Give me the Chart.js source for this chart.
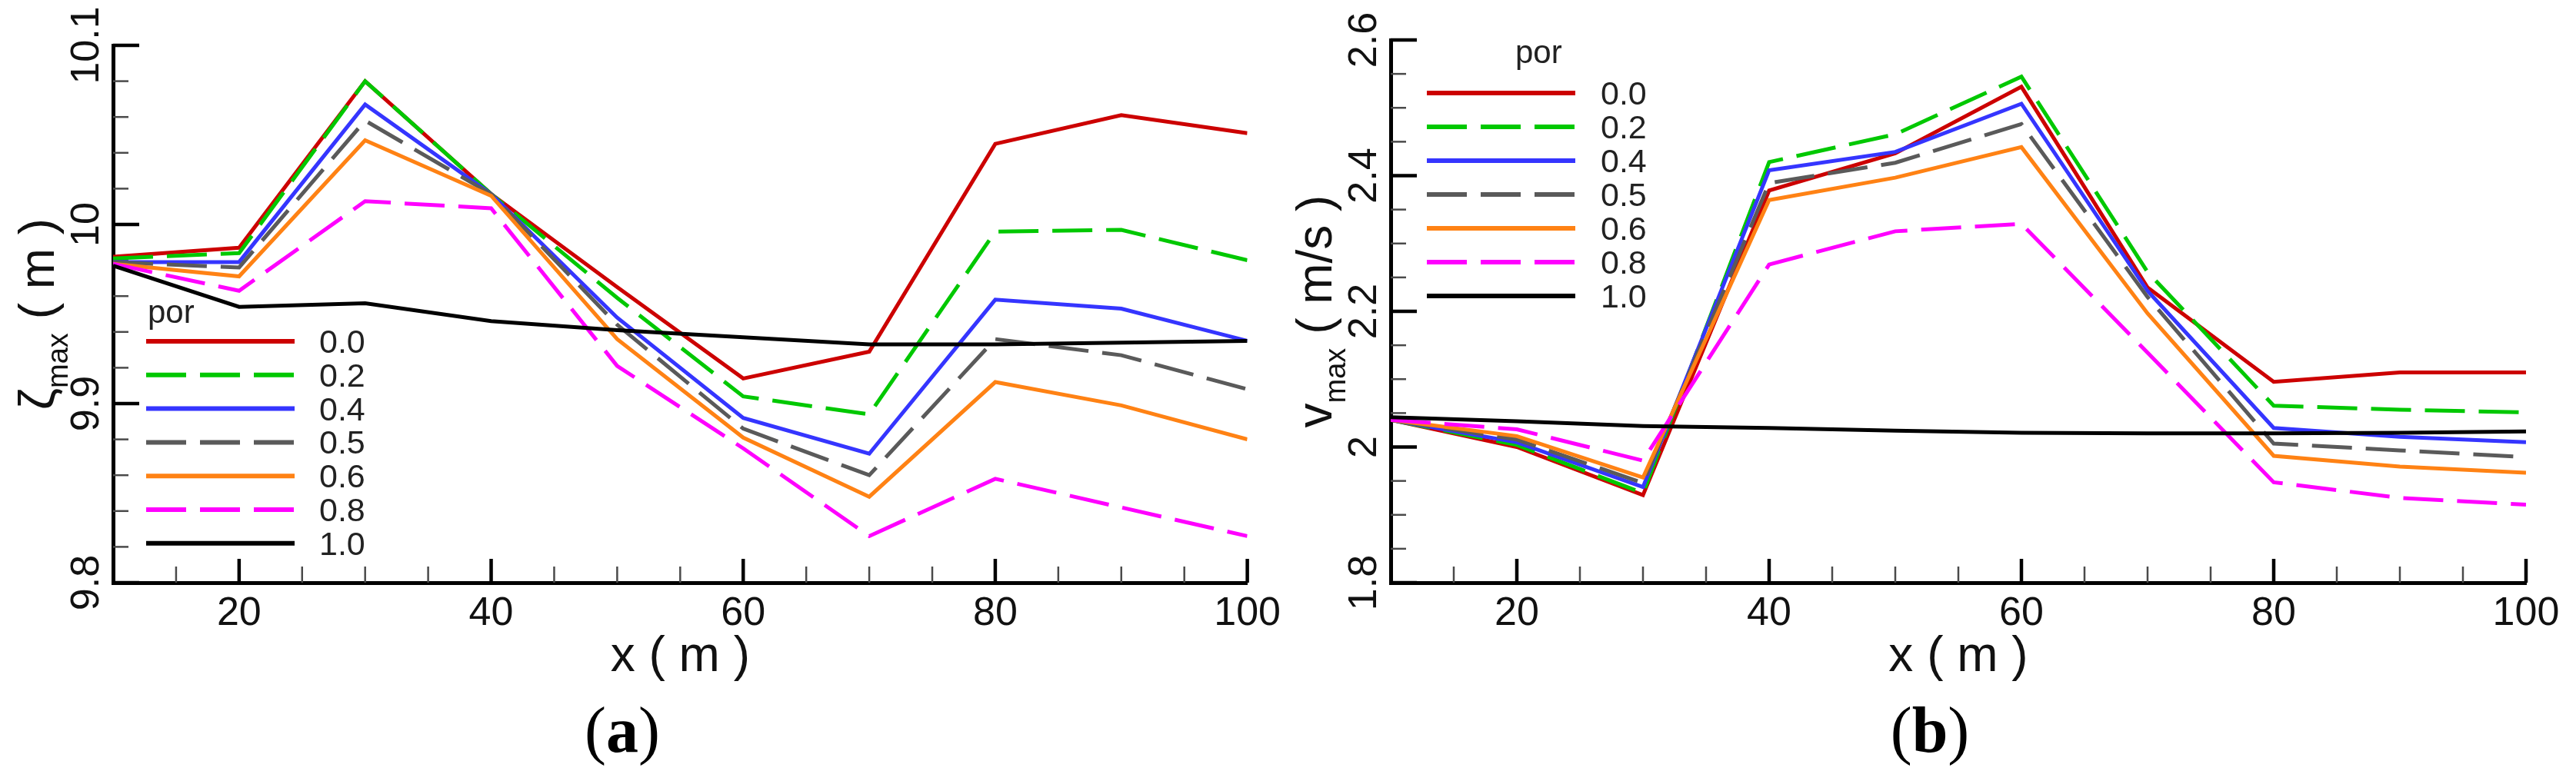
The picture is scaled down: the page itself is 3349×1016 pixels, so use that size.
<!DOCTYPE html>
<html>
<head>
<meta charset="utf-8">
<script src="https://cdn.jsdelivr.net/npm/chart.js@4.4.1/dist/chart.umd.min.js"></script>
<style>
html,body{margin:0;padding:0;background:#fff;width:3349px;height:1016px;overflow:hidden}
.panel{position:absolute;top:0;width:1674px;height:1016px}
#wa{left:0}
#wb{left:1675px}
canvas{display:block}
</style>
</head>
<body>
<div class="panel" id="wa"><canvas id="ca" width="1674" height="1016"></canvas></div>
<div class="panel" id="wb"><canvas id="cb" width="1674" height="1016"></canvas></div>
<script>
// ---------- data ----------
const xStations = [10, 20, 30, 40, 50, 60, 70, 80, 90, 100];
const porLabels = ['0.0', '0.2', '0.4', '0.5', '0.6', '0.8', '1.0'];

// (a) maximum surface elevation zeta_max (m)
const zeta_por00 = [9.982, 9.987, 10.080, 10.017, 9.965, 9.914, 9.929, 10.045, 10.061, 10.051];
const zeta_por02 = [9.981, 9.984, 10.080, 10.017, 9.959, 9.904, 9.894, 9.996, 9.997, 9.980];
const zeta_por04 = [9.979, 9.979, 10.067, 10.017, 9.948, 9.892, 9.872, 9.958, 9.953, 9.935];
const zeta_por05 = [9.979, 9.976, 10.058, 10.017, 9.944, 9.886, 9.860, 9.936, 9.927, 9.908];
const zeta_por06 = [9.978, 9.971, 10.047, 10.016, 9.936, 9.881, 9.848, 9.912, 9.899, 9.880];
const zeta_por08 = [9.978, 9.963, 10.013, 10.009, 9.921, 9.875, 9.826, 9.858, 9.842, 9.826];
const zeta_por10 = [9.977, 9.954, 9.956, 9.946, 9.941, 9.937, 9.933, 9.933, 9.934, 9.935];

// (b) maximum velocity v_max (m/s)
const vel_por00 = [2.040, 2.000, 1.929, 2.378, 2.433, 2.531, 2.235, 2.096, 2.110, 2.110];
const vel_por02 = [2.040, 2.003, 1.932, 2.420, 2.461, 2.546, 2.258, 2.061, 2.055, 2.051];
const vel_por04 = [2.040, 2.007, 1.941, 2.408, 2.435, 2.506, 2.230, 2.028, 2.015, 2.007];
const vel_por05 = [2.040, 2.011, 1.947, 2.389, 2.419, 2.476, 2.221, 2.005, 1.995, 1.985];
const vel_por06 = [2.040, 2.016, 1.955, 2.364, 2.397, 2.442, 2.197, 1.987, 1.971, 1.962];
const vel_por08 = [2.040, 2.026, 1.980, 2.269, 2.318, 2.329, 2.139, 1.948, 1.925, 1.915];
const vel_por10 = [2.044, 2.038, 2.031, 2.028, 2.024, 2.021, 2.020, 2.020, 2.021, 2.023];

// ticks
const xMajorTicks = [20, 40, 60, 80, 100];
const xMinorTicks = [15, 25, 30, 35, 45, 50, 55, 65, 70, 75, 85, 90, 95];
const zetaMajorTicks = [9.8, 9.9, 10, 10.1];
const zetaTickLabels = ['9.8', '9.9', '10', '10.1'];
const zetaMinorTicks = [9.82, 9.84, 9.86, 9.88, 9.92, 9.94, 9.96, 9.98, 10.02, 10.04, 10.06, 10.08];
const velMajorTicks = [1.8, 2.0, 2.2, 2.4, 2.6];
const velTickLabels = ['1.8', '2', '2.2', '2.4', '2.6'];
const velMinorTicks = [1.85, 1.9, 1.95, 2.05, 2.1, 2.15, 2.25, 2.3, 2.35, 2.45, 2.5, 2.55];

// ---------- styles ----------
const seriesColors = ['#cc0000', '#00c800', '#3535ff', '#5a5a5a', '#ff8214', '#ff00ff', '#000000'];
const seriesDashed = [false, true, false, true, false, true, false];
const DASH = [52, 18];
const SANS = "'Liberation Sans', Arial, Helvetica, sans-serif";
const SERIF = "'Liberation Serif', 'Times New Roman', serif";

function makeDatasets(seriesList) {
  return seriesList.map((vals, i) => ({
    label: porLabels[i],
    data: xStations.map((x, k) => ({ x: x, y: vals[k] })),
    borderColor: seriesColors[i],
    borderWidth: 5,
    borderDash: seriesDashed[i] ? DASH : [],
    borderCapStyle: 'butt',
    borderJoinStyle: 'miter',
    pointRadius: 0,
    tension: 0,
    fill: false,
    order: seriesList.length - 1 - i
  }));
}

function makeDecor(cfg) {
  function seg(ctx, x1, y1, x2, y2, w, c) {
    ctx.beginPath();
    ctx.lineWidth = w;
    ctx.strokeStyle = c;
    ctx.moveTo(x1, y1);
    ctx.lineTo(x2, y2);
    ctx.stroke();
  }
  return {
    id: 'decor_' + cfg.name,
    beforeDatasetsDraw(chart) {
      const ctx = chart.ctx, xs = chart.scales.x, ys = chart.scales.y, a = chart.chartArea;
      ctx.save();
      ctx.lineCap = 'butt';
      xMinorTicks.forEach(v => { const p = xs.getPixelForValue(v); seg(ctx, p, a.bottom, p, a.bottom - 21, 2.5, '#4a4a4a'); });
      xMajorTicks.forEach(v => { const p = xs.getPixelForValue(v); seg(ctx, p, a.bottom, p, a.bottom - 31, 4.5, '#000'); });
      cfg.yMinor.forEach(v => { const p = ys.getPixelForValue(v); seg(ctx, a.left, p, a.left + 20, p, 2.5, '#4a4a4a'); });
      cfg.yMajor.forEach(v => { const p = ys.getPixelForValue(v); seg(ctx, a.left, p, a.left + 34, p, 4.5, '#000'); });
      ctx.restore();
    },
    afterDraw(chart) {
      const ctx = chart.ctx, xs = chart.scales.x, ys = chart.scales.y, a = chart.chartArea;
      ctx.save();
      ctx.fillStyle = '#111';
      // y tick labels (rotated)
      ctx.font = '52px ' + SANS;
      ctx.textAlign = 'center';
      ctx.textBaseline = 'alphabetic';
      cfg.yMajor.forEach((v, i) => {
        const p = ys.getPixelForValue(v);
        ctx.save();
        ctx.translate(a.left - 19, p);
        ctx.rotate(-Math.PI / 2);
        ctx.fillText(cfg.yLabels[i], 0, 0);
        ctx.restore();
      });
      // y title: symbol + subscript + unit
      const cy = (a.top + a.bottom) / 2;
      ctx.textAlign = 'left';
      ctx.font = '64px ' + SANS;
      const w1 = ctx.measureText(cfg.ySym).width;
      const w3 = ctx.measureText(cfg.yUnit).width;
      ctx.font = '38px ' + SANS;
      const w2 = ctx.measureText('max').width;
      ctx.save();
      ctx.translate(a.left - 77, cy);
      ctx.rotate(-Math.PI / 2);
      let sx = -(w1 + w2 + w3) / 2;
      ctx.font = '64px ' + SANS;
      ctx.fillText(cfg.ySym, sx, 0);
      sx += w1;
      ctx.font = '38px ' + SANS;
      ctx.fillText('max', sx, 18);
      sx += w2;
      ctx.font = '64px ' + SANS;
      ctx.fillText(cfg.yUnit, sx, 0);
      ctx.restore();
      // x title
      ctx.font = '64px ' + SANS;
      ctx.textAlign = 'center';
      ctx.fillText('x ( m )', (a.left + a.right) / 2, 873);
      // caption (a)/(b)
      ctx.textAlign = 'left';
      ctx.font = '84px ' + SERIF;
      const pw = ctx.measureText('(').width;
      const pw2 = ctx.measureText(')').width;
      ctx.font = 'bold 84px ' + SERIF;
      const lw = ctx.measureText(cfg.caption).width;
      let cx = cfg.captionX - (pw + lw + pw2) / 2;
      ctx.fillStyle = '#000';
      ctx.font = '84px ' + SERIF;
      ctx.fillText('(', cx, 978);
      cx += pw;
      ctx.font = 'bold 84px ' + SERIF;
      ctx.fillText(cfg.caption, cx, 978);
      cx += lw;
      ctx.font = '84px ' + SERIF;
      ctx.fillText(')', cx, 978);
      // legend
      const L = cfg.legend;
      ctx.fillStyle = '#222';
      ctx.font = '42px ' + SANS;
      ctx.fillText('por', L.porX, L.porY);
      porLabels.forEach((lab, i) => {
        const ry = L.row0 + i * L.rowStep;
        ctx.save();
        ctx.lineCap = 'butt';
        ctx.setLineDash(seriesDashed[i] ? DASH : []);
        seg(ctx, L.x1, ry, L.x2, ry, 6, seriesColors[i]);
        ctx.restore();
        ctx.fillStyle = '#222';
        ctx.font = '43px ' + SANS;
        ctx.fillText(lab, L.labX, ry + 15);
      });
      ctx.restore();
    }
  };
}

function makeChart(canvasId, seriesList, cfg) {
  const W = 1674, H = 1016;
  const area = cfg.area;
  return new Chart(document.getElementById(canvasId), {
    type: 'line',
    data: { datasets: makeDatasets(seriesList) },
    options: {
      responsive: false,
      animation: false,
      devicePixelRatio: 1,
      layout: { padding: { left: 0, top: area.top, right: W - area.right, bottom: 0 } },
      plugins: { legend: { display: false }, tooltip: { enabled: false }, title: { display: false } },
      scales: {
        x: {
          type: 'linear',
          min: 10, max: 100,
          afterBuildTicks: (s) => { s.ticks = xMajorTicks.map(v => ({ value: v })); },
          afterFit: (s) => { s.height = H - area.bottom; },
          grid: { display: false, drawTicks: false },
          border: { display: true, color: '#000', width: 5 },
          ticks: { font: { size: 52, family: SANS }, color: '#111', padding: 9, maxRotation: 0, autoSkip: false }
        },
        y: {
          type: 'linear',
          min: cfg.yMin, max: cfg.yMax,
          afterFit: (s) => { s.width = area.left; },
          grid: { display: false, drawTicks: false },
          border: { display: true, color: '#000', width: 5 },
          ticks: { display: false }
        }
      }
    },
    plugins: [makeDecor(cfg)]
  });
}

makeChart('ca', [zeta_por00, zeta_por02, zeta_por04, zeta_por05, zeta_por06, zeta_por08, zeta_por10], {
  name: 'a',
  area: { left: 147, right: 1622, top: 59, bottom: 758 },
  yMin: 9.8, yMax: 10.1,
  yMajor: zetaMajorTicks, yLabels: zetaTickLabels, yMinor: zetaMinorTicks,
  ySym: '\u03B6', yUnit: ' ( m )',
  caption: 'a', captionX: 809,
  legend: { porX: 192, porY: 420, x1: 190, x2: 383, row0: 444, rowStep: 43.8, labX: 415 }
});

makeChart('cb', [vel_por00, vel_por02, vel_por04, vel_por05, vel_por06, vel_por08, vel_por10], {
  name: 'b',
  area: { left: 133, right: 1609, top: 52, bottom: 758 },
  yMin: 1.8, yMax: 2.6,
  yMajor: velMajorTicks, yLabels: velTickLabels, yMinor: velMinorTicks,
  ySym: 'v', yUnit: ' ( m/s )',
  caption: 'b', captionX: 834,
  legend: { porX: 295, porY: 82, x1: 180, x2: 373, row0: 121, rowStep: 44, labX: 406 }
});
</script>
</body>
</html>
